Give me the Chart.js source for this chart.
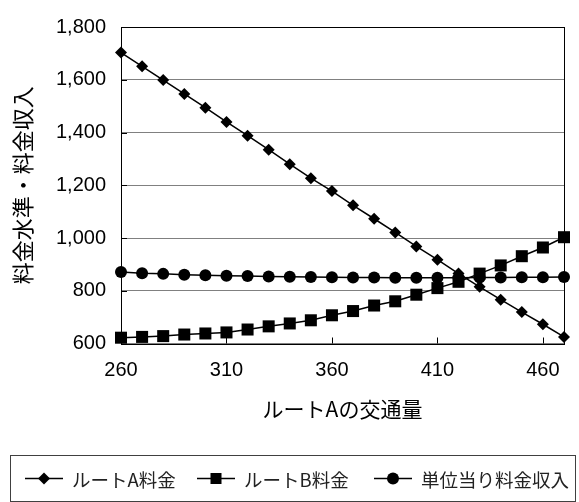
<!DOCTYPE html>
<html lang="ja">
<head>
<meta charset="UTF-8" />
<title>ルートAの交通量と料金</title>
<script src="https://cdn.jsdelivr.net/npm/chart.js"></script>
<style>
body { margin: 0; background: #fff; }
#wrap { position: relative; width: 579px; height: 502px; }
#c { position: absolute; left: 0; top: 0; }
#legend { position: absolute; left: 10px; top: 455px; width: 566px; height: 47px; box-sizing: border-box; border: 1px solid #404040; font-family: "Noto Sans CJK JP", sans-serif; font-size: 18.5px; color: #222; }
#legend .item { position: absolute; top: 0; height: 45px; display: flex; align-items: center; }
#legend svg { margin-right: 9px; }
</style>
</head>
<body>
<div id="wrap">
  <canvas id="c" width="579" height="502"></canvas>
  <div id="legend"></div>
</div>
<script>
// ルートAの交通量 (x)
const kotsuryo = ['260','270','280','290','300','310','320','330','340','350','360',
                  '370','380','390','400','410','420','430','440','450','460','470'];
// ルートA料金
const ryokinA = [1703,1651,1599,1546,1494,1440,1388,1335,1280,1227,1178,
                 1124,1073,1021,968,918,865,815,766,719,673,625];
// ルートB料金
const ryokinB = [622,625,628,634,638,642,653,665,676,688,707,
                 723,744,760,785,810,834,865,896,931,964,1003];
// 単位当り料金収入
const shunyu = [871,866,864,861,859,857,856,854,853,852,851,
                850,850,849,849,849,849,850,850,851,851,852];
const yTicks = [600, 800, 1000, 1200, 1400, 1600, 1800];

const latin = "'Liberation Sans', 'Noto Sans CJK JP', sans-serif";
const cjk = "'Noto Sans CJK JP', sans-serif";

// 枠線と内向きの目盛り
const frame = {
  id: 'frame',
  beforeDatasetsDraw(chart) {
    const { ctx, chartArea: a, scales } = chart;
    ctx.save();
    ctx.strokeStyle = '#000';
    ctx.lineWidth = 1;
    ctx.beginPath();
    yTicks.forEach(v => {
      const y = Math.round(scales.y.getPixelForValue(v)) + 0.5;
      ctx.moveTo(a.left, y); ctx.lineTo(a.left + 6, y);
    });
    kotsuryo.forEach((k, i) => {
      if (i % 5 !== 0 || i === 0) return;
      const x = Math.round(scales.x.getPixelForValue(i)) + 0.5;
      ctx.moveTo(x, a.bottom); ctx.lineTo(x, a.bottom - 6);
    });
    ctx.stroke();
    ctx.strokeRect(Math.round(a.left) + 0.5, Math.round(a.top) + 0.5,
                   Math.round(a.right - a.left), Math.round(a.bottom - a.top));
    ctx.restore();
  }
};

const ds = (label, data, style, r) => ({
  label, data,
  borderColor: '#000', borderWidth: 1.5,
  backgroundColor: '#000',
  pointStyle: style, pointRadius: r, pointHoverRadius: r,
  pointBackgroundColor: '#000', pointBorderColor: '#000', pointBorderWidth: 0,
  tension: 0, clip: false
});

new Chart(document.getElementById('c'), {
  type: 'line',
  data: {
    labels: kotsuryo,
    datasets: [
      ds('ルートA料金', ryokinA, 'rectRot', 6),
      ds('ルートB料金', ryokinB, 'rect', 8.5),
      ds('単位当り料金収入', shunyu, 'circle', 6)
    ]
  },
  options: {
    responsive: false,
    animation: false,
    layout: { padding: { top: 23, right: 6, left: 9, bottom: 80 } },
    plugins: { legend: { display: false }, tooltip: { enabled: false } },
    scales: {
      x: {
        offset: false,
        grid: { display: false, drawTicks: false },
        border: { display: false },
        ticks: {
          autoSkip: false, maxRotation: 0, padding: 15, color: '#000',
          font: { family: latin, size: 20 },
          callback: (v, i) => (i % 5 === 0 ? kotsuryo[i] : '')
        },
        title: { display: true, text: 'ルートAの交通量', color: '#000',
                 font: { family: cjk, size: 21 }, padding: { top: 0, bottom: 0 } },
        afterFit: s => { s.height = 78.5; }
      },
      y: {
        min: 600, max: 1800,
        grid: { color: '#808080', lineWidth: 1, drawTicks: false },
        border: { display: false },
        ticks: {
          stepSize: 200, padding: 15, color: '#000',
          font: { family: latin, size: 20 },
          callback: v => v.toLocaleString('en-US')
        },
        title: { display: true, text: '料金水準・料金収入', color: '#000',
                 font: { family: cjk, size: 22 }, padding: { top: 0, bottom: 0 } },
        afterFit: s => { s.width = 112; }
      }
    }
  },
  plugins: [frame]
});

// 凡例
const legendItems = [
  { label: 'ルートA料金', shape: 'diamond', left: 14 },
  { label: 'ルートB料金', shape: 'square', left: 186 },
  { label: '単位当り料金収入', shape: 'circle', left: 363 }
];
const marker = s => {
  let m = '';
  if (s === 'diamond') m = '<polygon points="19,1.5 25,7.5 19,13.5 13,7.5" fill="#000"/>';
  if (s === 'square') m = '<rect x="13.5" y="2" width="11" height="11" fill="#000"/>';
  if (s === 'circle') m = '<circle cx="19" cy="7.5" r="6" fill="#000"/>';
  return `<svg width="38" height="15"><line x1="0" y1="7.5" x2="38" y2="7.5" stroke="#000" stroke-width="1.5"/>${m}</svg>`;
};
document.getElementById('legend').innerHTML = legendItems.map(it =>
  `<div class="item" style="left:${it.left}px">${marker(it.shape)}<span>${it.label}</span></div>`).join('');
</script>
</body>
</html>
